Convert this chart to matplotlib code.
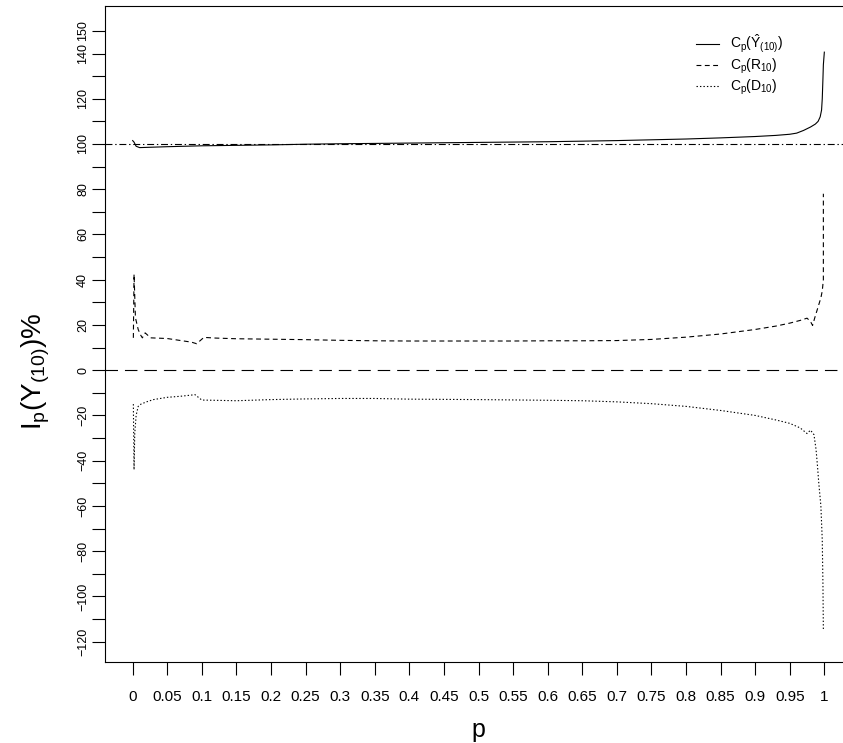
import matplotlib

matplotlib.use("Agg")
import matplotlib.pyplot as plt

plt.rcParams["font.family"] = ["Liberation Sans", "DejaVu Sans"]
plt.rcParams["mathtext.fontset"] = "custom"
plt.rcParams["mathtext.rm"] = "Liberation Sans"
plt.rcParams["mathtext.it"] = "Liberation Sans"
plt.rcParams["mathtext.bf"] = "Liberation Sans:bold"
plt.rcParams["lines.scale_dashes"] = False

# c_p(Y_hat_(10)) -- solid
p_hat = [0.0, 0.002, 0.005, 0.01, 0.03, 0.05, 0.1, 0.2, 0.25, 0.3, 0.4, 0.5,
         0.6, 0.7, 0.8, 0.85, 0.9, 0.93, 0.95, 0.96, 0.97, 0.98, 0.987, 0.991,
         0.994, 0.996, 0.997, 0.998, 0.9986, 1.0]
c_hat = [101.5, 100.8, 99.0, 98.4, 98.6, 98.8, 99.2, 99.6, 99.9, 100.1, 100.4,
         100.7, 101.0, 101.5, 102.2, 102.7, 103.3, 103.8, 104.3, 104.8, 106.0,
         107.5, 108.8, 110.0, 112.0, 115.0, 120.0, 129.0, 135.0, 140.6]

# c_p(R_10) -- dashed
p_r = [0.001, 0.002, 0.004, 0.008, 0.011, 0.014, 0.018, 0.026, 0.05, 0.074,
       0.085, 0.0925, 0.103, 0.12, 0.15, 0.2, 0.25, 0.3, 0.35, 0.4, 0.45, 0.5,
       0.55, 0.6, 0.65, 0.7, 0.75, 0.8, 0.85, 0.9, 0.93, 0.95, 0.965, 0.975,
       0.98, 0.983, 0.986, 0.989, 0.992, 0.995, 0.997, 0.9986, 0.9986]
c_r = [14.3, 42.4, 23.2, 18.0, 15.8, 14.3, 16.5, 14.3, 14.0, 12.9, 12.4, 11.7,
       14.5, 14.2, 13.9, 13.7, 13.5, 13.2, 13.0, 12.9, 12.9, 12.9, 12.9, 13.0,
       13.0, 13.1, 13.6, 14.6, 16.0, 18.0, 19.5, 20.8, 22.0, 23.0, 21.5, 19.8,
       23.0, 26.0, 29.0, 32.0, 35.0, 40.0, 78.0]

# c_p(D_10) -- dotted
p_d = [0.001, 0.002, 0.003, 0.005, 0.008, 0.012, 0.02, 0.03, 0.05, 0.07,
       0.085, 0.09, 0.1, 0.15, 0.2, 0.25, 0.3, 0.35, 0.4, 0.5, 0.6, 0.65, 0.7,
       0.75, 0.8, 0.85, 0.9, 0.93, 0.95, 0.965, 0.975, 0.98, 0.985, 0.988,
       0.99, 0.992, 0.995, 0.997, 0.998, 0.9986]
c_d = [-15.0, -44.0, -28.0, -20.0, -16.0, -15.0, -14.0, -13.0, -12.0, -11.5,
       -11.0, -10.8, -13.2, -13.5, -13.0, -12.7, -12.5, -12.5, -12.8, -13.0,
       -13.3, -13.5, -14.0, -14.8, -16.0, -17.8, -20.0, -22.0, -23.5, -25.5,
       -28.0, -26.5, -28.5, -35.0, -42.0, -50.0, -60.0, -75.0, -95.0, -115.0]

labels = [r"$C_p(\hat{Y}_{(10)})$", r"$C_p(R_{10})$", r"$C_p(D_{10})$"]

x_ticks = [i * 0.05 for i in range(21)]
x_ticklabels = ["0", "0.05", "0.1", "0.15", "0.2", "0.25", "0.3", "0.35", "0.4",
                "0.45", "0.5", "0.55", "0.6", "0.65", "0.7", "0.75", "0.8",
                "0.85", "0.9", "0.95", "1"]
y_ticks = list(range(-120, 151, 10))
y_labelled = [-120, -100, -80, -60, -40, -20, 0, 20, 40, 60, 80, 100, 120, 140, 150]

fig = plt.figure(figsize=(8.43, 7.43), dpi=100)
ax = fig.add_axes([105 / 843, 1 - 662 / 743, 747 / 843, 656 / 743])

lw = 0.8
ax.axhline(100, color="black", lw=lw, linestyle=(0, (5, 2, 1, 2)))
ax.axhline(0, color="black", lw=lw, linestyle=(0, (9, 5)))
ax.plot(p_hat, c_hat, color="black", lw=lw, label=labels[0])
ax.plot(p_r, c_r, color="black", lw=lw, linestyle=(0, (3.5, 2.5)), label=labels[1])
ax.plot(p_d, c_d, color="black", lw=lw, linestyle=(0, (1, 1.5)), label=labels[2])

ax.set_xlim(-0.04, 1.04)
ax.set_ylim(-129, 161)
ax.set_xticks(x_ticks)
ax.set_xticklabels(x_ticklabels)
ax.set_yticks(y_ticks)
ax.set_yticklabels([str(v).replace("-", "\u2212") if v in y_labelled else ""
                    for v in y_ticks], rotation=90, va="center")
ax.tick_params(axis="x", length=9.4, width=0.8, labelsize=11, pad=11)
ax.tick_params(axis="y", length=9.4, width=0.8, labelsize=9, pad=2)
for s in ax.spines.values():
    s.set_linewidth(0.8)

ax.legend(loc="upper left", bbox_to_anchor=(696 / 843, 1 - 33 / 743),
          bbox_transform=fig.transFigure, frameon=False, fontsize=10,
          handlelength=1.65, handletextpad=0.8, labelspacing=0.12,
          borderpad=0, borderaxespad=0)

fig.text(478 / 843, 1 - 730 / 743, "p", fontsize=18, ha="center", va="center")
fig.text(36 / 843, 0.5, r"$I_p(Y_{(10)})\%$", fontsize=20, rotation=90,
         ha="center", va="center")

fig.savefig("out.png", dpi=100)
